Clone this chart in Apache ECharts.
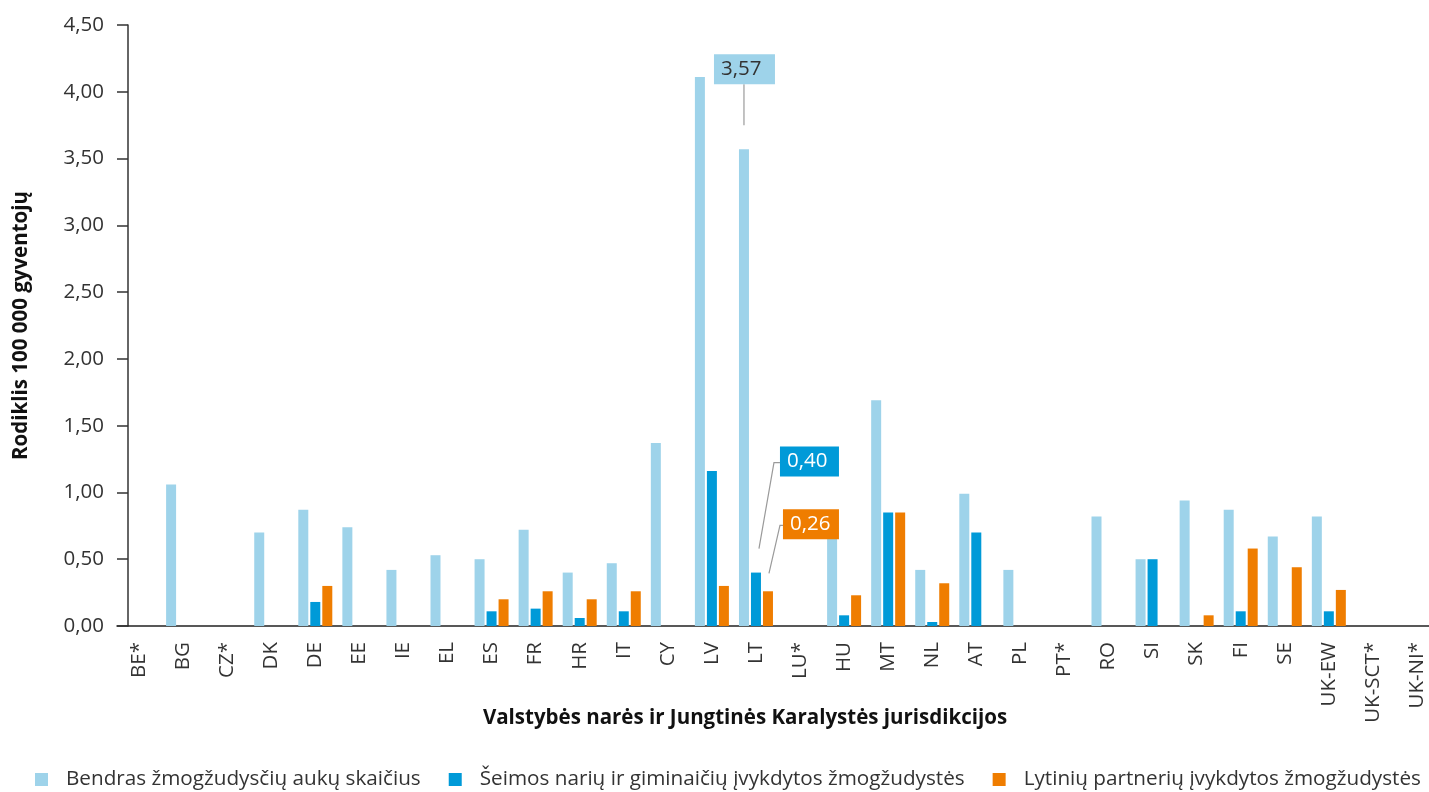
<!DOCTYPE html>
<html>
<head>
<meta charset="utf-8">
<script src="https://cdn.jsdelivr.net/npm/echarts@6/dist/echarts.min.js"></script>
<style>
html,body{margin:0;padding:0;background:#fff;}
#main{width:1429px;height:792px;}
</style>
</head>
<body>
<div id="main"></div>
<script>
var categories = ['BE*','BG','CZ*','DK','DE','EE','IE','EL','ES','FR','HR','IT','CY','LV','LT','LU*','HU','MT','NL','AT','PL','PT*','RO','SI','SK','FI','SE','UK-EW','UK-SCT*','UK-NI*'];
var seriesNames = ['Bendras žmogžudysčių aukų skaičius','Šeimos narių ir giminaičių įvykdytos žmogžudystės','Lytinių partnerių įvykdytos žmogžudystės'];
var totalVictims = [null,1.06,null,0.70,0.87,0.74,0.42,0.53,0.50,0.72,0.40,0.47,1.37,4.11,3.57,null,0.75,1.69,0.42,0.99,0.42,null,0.82,0.50,0.94,0.87,0.67,0.82,null,null];
var familyHomicides = [null,null,null,null,0.18,null,null,null,0.11,0.13,0.06,0.11,null,1.16,0.40,null,0.08,0.85,0.03,0.70,null,null,null,0.50,null,0.11,null,0.11,null,null];
var partnerHomicides = [null,null,null,null,0.30,null,null,null,0.20,0.26,0.20,0.26,null,0.30,0.26,null,0.23,0.85,0.32,null,null,null,null,null,0.08,0.58,0.44,0.27,null,null];
var yTicks = {min:0, max:4.5, interval:0.5};
// callouts: [seriesIndex, category]
var callouts = [[0,'LT'],[1,'LT'],[2,'LT']];

var colors = ['#9ed3ea','#009ad8','#ef7d00'];
var fmt = function(v){ return v.toFixed(2).replace('.', ','); };
var FONT = '"Open Sans", "Noto Sans", sans-serif';
var FS = 20.5;

var chart = echarts.init(document.getElementById('main'), null, {renderer:'canvas'});
var allData = [totalVictims, familyHomicides, partnerHomicides];

var option = {
  animation:false,
  color: colors,
  textStyle:{fontFamily:FONT},
  grid:{left:117, top:25, width:1322, height:601, containLabel:false, outerBoundsMode:'none'},
  legend:{
    top:769, left:35, padding:0,
    icon:'rect', itemWidth:13, itemHeight:13, itemGap:28,
    textStyle:{fontSize:20.7, color:'#333', fontFamily:FONT, padding:[0,0,0,13]},
    data: seriesNames
  },
  xAxis:{
    type:'category', data:categories,
    axisLine:{show:true, lineStyle:{color:'#222', width:1.5}},
    axisTick:{show:false},
    axisLabel:{rotate:90, margin:16, fontSize:FS, color:'#333', fontFamily:FONT, interval:0},
    name:'Valstybės narės ir Jungtinės Karalystės jurisdikcijos',
    nameLocation:'middle', nameGap:82, nameMoveOverlap:false,
    nameTextStyle:{fontSize:FS, fontWeight:'bold', color:'#111', fontFamily:FONT, padding:[0,66,0,0]}
  },
  yAxis:{
    type:'value', min:yTicks.min, max:yTicks.max, interval:yTicks.interval,
    offset:-11,
    axisLine:{show:true, lineStyle:{color:'#333', width:1.5}},
    axisTick:{show:true, length:11, lineStyle:{color:'#333', width:1.5}},
    splitLine:{show:false},
    axisLabel:{formatter:fmt, fontSize:FS, color:'#333', margin:24, fontFamily:FONT},
    name:'Rodiklis 100 000 gyventojų', nameLocation:'middle', nameGap:96, nameMoveOverlap:false,
    nameTextStyle:{fontSize:FS, fontWeight:'bold', color:'#111', fontFamily:FONT}
  },
  series: seriesNames.map(function(n,i){
    return {name:n, type:'bar', data:allData[i], barWidth:10, barGap:'20%', itemStyle:{color:colors[i]}};
  })
};
chart.setOption(option);

// callouts derived from data via the library's scales
var barShift = [-12, 0, 12];
var calloutStyle = [
  {box:[-30,-95,61,30], line:[[0,-24],[0,-65]], text:'#333'},
  {box:[24,-126,59,30], line:[[3,-24],[18,-110],[24,-110]], text:'#fff'},
  {box:[15,-82,56,30], line:[[1,-18],[12,-66],[15,-66]], text:'#fff'}
];
var graphics = [];
callouts.forEach(function(c){
  var si = c[0], cat = c[1];
  var idx = categories.indexOf(cat);
  var val = allData[si][idx];
  var p = chart.convertToPixel({gridIndex:0}, [idx, val]);
  var ax = p[0] + barShift[si], ay = p[1];
  var st = calloutStyle[si];
  graphics.push({
    type:'polyline', z:100,
    shape:{points: st.line.map(function(q){return [ax+q[0], ay+q[1]];})},
    style:{stroke:'#9a9a9a', lineWidth:1.2, fill:null}
  });
  graphics.push({
    type:'rect', z:101,
    shape:{x:ax+st.box[0], y:ay+st.box[1], width:st.box[2], height:st.box[3]},
    style:{fill:colors[si]}
  });
  graphics.push({
    type:'text', z:102,
    x:ax+st.box[0]+7, y:ay+st.box[1]+st.box[3]/2,
    style:{text:fmt(val), fill:st.text, font:FS + 'px ' + FONT, textVerticalAlign:'middle', textAlign:'left'}
  });
});
chart.setOption({graphic:graphics});
</script>
</body>
</html>
